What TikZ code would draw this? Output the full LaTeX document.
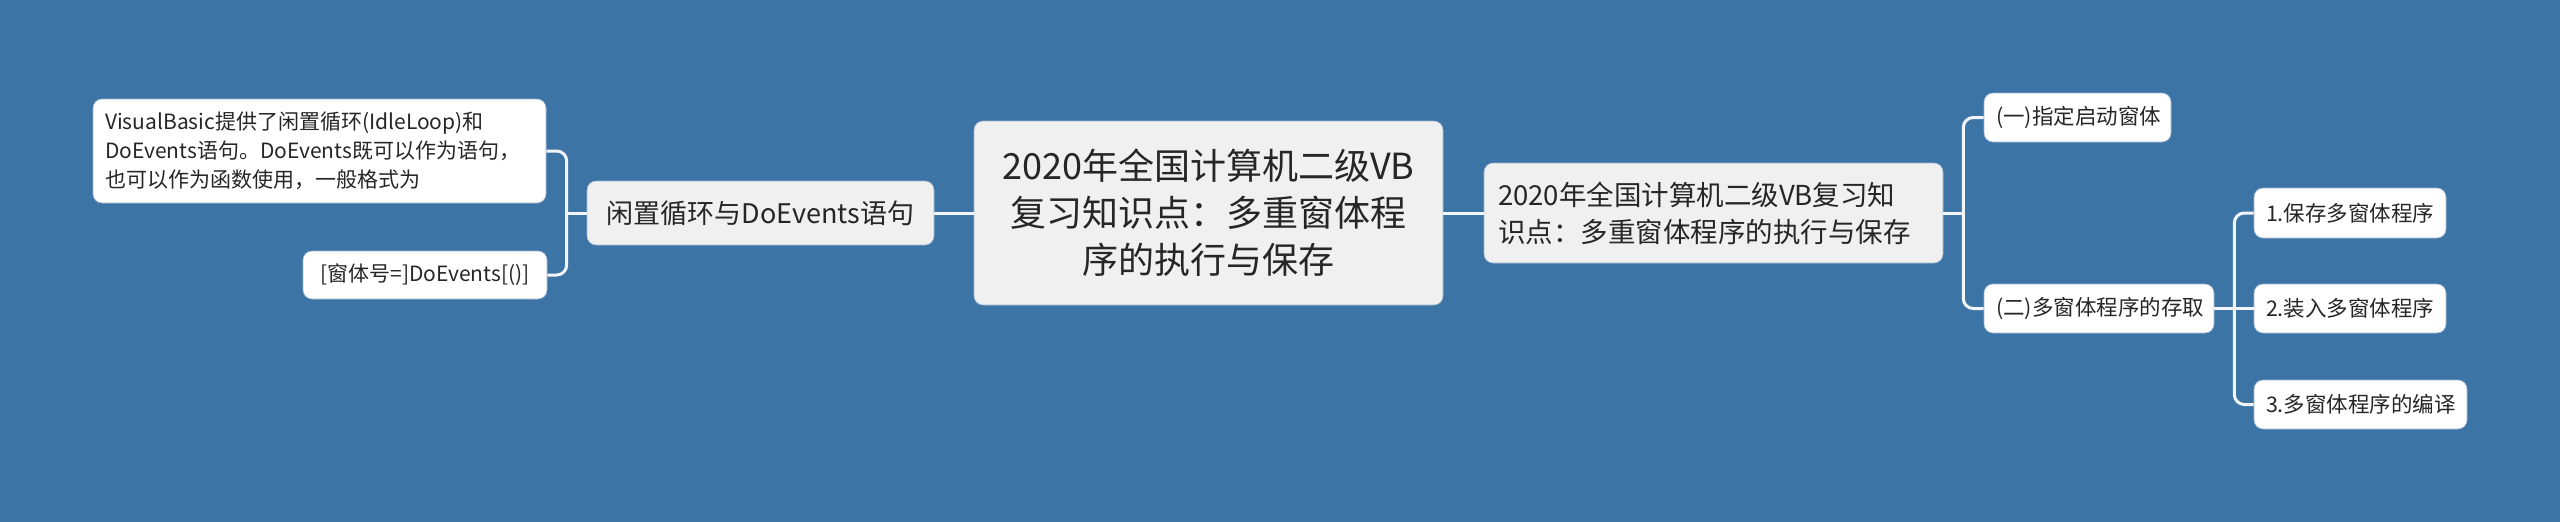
\documentclass[tikz,border=0pt]{standalone}
\usepackage{fontspec}
\setmainfont{Noto Sans CJK SC}
\definecolor{bg}{HTML}{3D74A6}
\definecolor{boxg}{HTML}{F0F0F0}
\definecolor{txt}{HTML}{262626}
\definecolor{linec}{HTML}{F2F5F9}
\definecolor{edge}{HTML}{9DB6CF}
\tikzset{
  mbox/.style={rounded corners=9pt, inner ysep=0pt, text=txt, draw=edge, line width=0.6pt, anchor=center},
  topbox/.style={mbox, fill=boxg},
  leafbox/.style={mbox, fill=white},
  conn/.style={draw=linec, line width=3pt, rounded corners=10pt},
}
\begin{document}
\begin{tikzpicture}[x=1pt,y=-1pt]
\fill[bg] (0,0) rectangle (2560,522);
\useasboundingbox (0,0) rectangle (2560,522);

% root
\node[topbox, text width=429pt, inner xsep=20pt, minimum height=184pt, align=center,
  font=\fontsize{36}{47}\selectfont] (root) at (1208.5,213)
  {2020年全国计算机二级VB\\复习知识点：多重窗体程\\序的执行与保存};

% left branch
\node[topbox, text width=317pt, inner xsep=15pt, minimum height=64pt, align=center,
  font=\fontsize{27}{34}\selectfont] (idle) at (760.5,213) {闲置循环与DoEvents语句};
\node[leafbox, text width=429pt, inner xsep=12pt, minimum height=104pt, align=left,
  font=\fontsize{21}{29}\selectfont] (vb) at (319.5,151)
  {VisualBasic提供了闲置循环(IdleLoop)和\\DoEvents语句。DoEvents既可以作为语句，\\也可以作为函数使用，一般格式为};
\node[leafbox, text width=224pt, inner xsep=10pt, minimum height=48pt, align=center,
  font=\fontsize{21}{27}\selectfont] (dov) at (425,275) {[窗体号=]DoEvents[()]};

% right branch
\node[topbox, text width=431pt, inner xsep=14pt, minimum height=100pt, align=left,
  font=\fontsize{27.5}{37}\selectfont] (sub) at (1713.5,213)
  {2020年全国计算机二级VB复习知\\识点：多重窗体程序的执行与保存};
\node[leafbox, text width=163pt, inner xsep=12pt, minimum height=49pt, align=left,
  font=\fontsize{21.5}{27}\selectfont] (s1) at (2077.5,117.5) {(一)指定启动窗体};
\node[leafbox, text width=206pt, inner xsep=12pt, minimum height=49pt, align=left,
  font=\fontsize{21.5}{27}\selectfont] (s2) at (2099,308.5) {(二)多窗体程序的存取};
\node[leafbox, text width=168pt, inner xsep=12pt, minimum height=50pt, align=left,
  font=\fontsize{21.5}{27}\selectfont] (l1) at (2350,213) {1.保存多窗体程序};
\node[leafbox, text width=168pt, inner xsep=12pt, minimum height=49pt, align=left,
  font=\fontsize{21.5}{27}\selectfont] (l2) at (2350,308.5) {2.装入多窗体程序};
\node[leafbox, text width=189pt, inner xsep=12pt, minimum height=49pt, align=left,
  font=\fontsize{21.5}{27}\selectfont] (l3) at (2360.5,404.5) {3.多窗体程序的编译};

% connectors
\draw[conn] (root.west) -- (idle.east);
\draw[conn] (idle.west) -- ++(-20,0) coordinate (jL);
\draw[conn] (jL) |- (vb.east);
\draw[conn] (jL) |- (dov.east);

\draw[conn] (root.east) -- (sub.west);
\draw[conn] (sub.east) -- ++(20,0) coordinate (jR);
\draw[conn] (jR) |- (s1.west);
\draw[conn] (jR) |- (s2.west);

\draw[conn] (s2.east) -- (l2.west);
\coordinate (jS) at ([xshift=20pt]s2.east);
\draw[conn] (jS) |- (l1.west);
\draw[conn] (jS) |- (l3.west);
\end{tikzpicture}
\end{document}
